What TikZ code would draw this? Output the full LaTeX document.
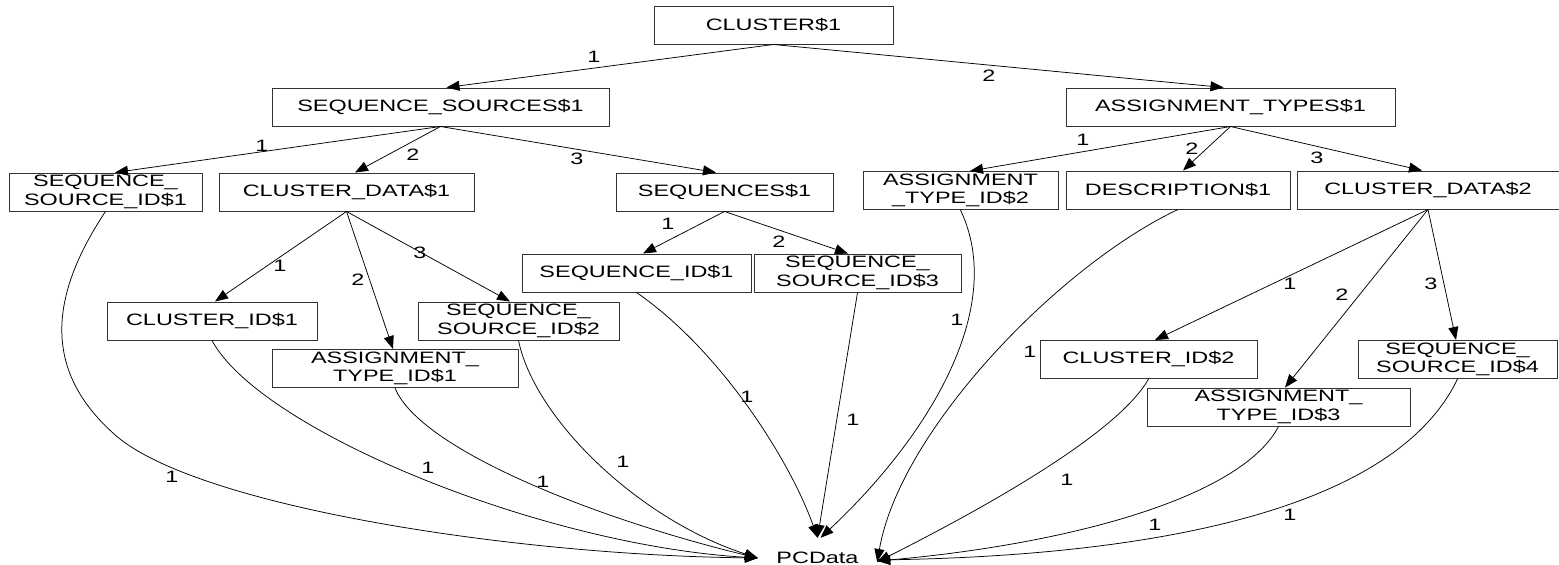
\documentclass[tikz,border=0pt]{standalone}
\usepackage{fontspec}
\setmainfont{Liberation Sans}[FakeStretch=1.42]
\usetikzlibrary{arrows.meta}
\newcommand\dtdfont{\fontsize{16.5}{18.3}\selectfont}
\begin{document}
\begin{tikzpicture}[x=1pt,y=-1pt,
  box/.style={draw=black!80,line width=1pt,minimum height=38pt,inner sep=0pt,align=center,font=\dtdfont},
  edge/.style={line width=0.75pt,-{Triangle[length=13pt,width=10pt]}},
  lbl/.style={font=\dtdfont,inner sep=0pt}]
\useasboundingbox (0,0) rectangle (1559,565);

% element boxes
\node[box,minimum width=239pt] (cl)    at (773.5,25)  {CLUSTER\$1};
\node[box,minimum width=337pt] (ss)    at (440.5,107) {SEQUENCE\_SOURCES\$1};
\node[box,minimum width=329pt] (at)    at (1230.5,107){ASSIGNMENT\_TYPES\$1};
\node[box,minimum width=193pt] (ssid1) at (105.5,192) {SEQUENCE\_\\SOURCE\_ID\$1};
\node[box,minimum width=255pt] (cd1)   at (346.5,192) {CLUSTER\_DATA\$1};
\node[box,minimum width=217pt] (seq)   at (724.5,192) {SEQUENCES\$1};
\node[box,minimum width=195pt] (atid2) at (960.5,190.5){ASSIGNMENT\\\_TYPE\_ID\$2};
\node[box,minimum width=224pt] (desc)  at (1178,190)  {DESCRIPTION\$1};
\node[box,minimum width=262pt] (cd2)   at (1428,190)  {CLUSTER\_DATA\$2};
\node[box,minimum width=229pt] (sid1)  at (636.5,273) {SEQUENCE\_ID\$1};
\node[box,minimum width=207pt] (ssid3) at (857.5,273) {SEQUENCE\_\\SOURCE\_ID\$3};
\node[box,minimum width=210pt] (cid1)  at (212,321)   {CLUSTER\_ID\$1};
\node[box,minimum width=201pt] (ssid2) at (518.5,321) {SEQUENCE\_\\SOURCE\_ID\$2};
\node[box,minimum width=246pt] (atid1) at (395,368.5) {ASSIGNMENT\_\\TYPE\_ID\$1};
\node[box,minimum width=217pt] (cid2)  at (1148.5,359.5){CLUSTER\_ID\$2};
\node[box,minimum width=199pt] (ssid4) at (1457.5,359.5){SEQUENCE\_\\SOURCE\_ID\$4};
\node[box,minimum width=263pt] (atid3) at (1278.5,407) {ASSIGNMENT\_\\TYPE\_ID\$3};
\node[minimum width=119pt,minimum height=40pt,inner sep=0pt,font=\dtdfont] (pc) at (817.5,558) {PCData};

% child edges
\draw[edge] (cl.south) -- ([xshift=6pt]ss.north);
\draw[edge] (cl.south) -- ([xshift=-7pt]at.north);
\draw[edge] (ss.south) -- ([xshift=9.5pt]ssid1.north);
\draw[edge] (ss.south) -- ([xshift=8.5pt]cd1.north);
\draw[edge] (ss.south) -- ([xshift=-8.5pt]seq.north);
\draw[edge] (at.south) -- ([xshift=9.5pt]atid2.north);
\draw[edge] (at.south) -- ([xshift=5pt]desc.north);
\draw[edge] (at.south) -- ([xshift=-6pt]cd2.north);
\draw[edge] (cd1.south) -- ([xshift=3pt]cid1.north);
\draw[edge] (cd1.south) -- ([xshift=-2pt]atid1.north);
\draw[edge] (cd1.south) -- ([xshift=-8.5pt]ssid2.north);
\draw[edge] (seq.south) -- ([xshift=6.5pt]sid1.north);
\draw[edge] (seq.south) -- ([xshift=-9.5pt]ssid3.north);
\draw[edge] (cd2.south) -- ([xshift=6.5pt]cid2.north);
\draw[edge] (cd2.south) -- ([xshift=6.5pt]atid3.north);
\draw[edge] (cd2.south) -- ([xshift=-1.5pt]ssid4.north);

% text content edges
\draw[edge] (ssid1.south) .. controls (50,295) and (42,369) .. (113,433)
                          .. controls (190,505) and (508,555) .. (pc.west);
\draw[edge] (cid1.south) .. controls (260,430) and (540,545) .. (pc.west);
\draw[edge] (atid1.south) .. controls (420,450) and (600,520) .. (pc.west);
\draw[edge] (ssid2.south) .. controls (535,420) and (640,520) .. (pc.west);
\draw[edge] (sid1.south) .. controls (720,350) and (790,460) .. (pc.north);
\draw[edge] (ssid3.south) -- (pc.north);
\draw[edge] (atid2.south) .. controls (1008,310) and (925,440) .. ([xshift=3pt]pc.north);
\draw[edge] (desc.south) .. controls (1060,265) and (900,430) .. ([yshift=-4pt]pc.east);
\draw[edge] (cid2.south) .. controls (1120,430) and (1000,500) .. ([yshift=-4pt]pc.east);
\draw[edge] (atid3.south) .. controls (1240,500) and (1060,545) .. ([yshift=-3pt]pc.east);
\draw[edge] (ssid4.south) .. controls (1390,520) and (1120,556) .. ([yshift=-2pt]pc.east);

% edge labels
\node[lbl] (l-cl-ss)    at (594,57)   {1};
\node[lbl] (l-cl-at)    at (989,76)   {2};
\node[lbl] (l-ss-ssid1) at (262,146)  {1};
\node[lbl] (l-ss-cd1)   at (413,155)  {2};
\node[lbl] (l-ss-seq)   at (577,159)  {3};
\node[lbl] (l-at-atid2) at (1083,140) {1};
\node[lbl] (l-at-desc)  at (1192,149) {2};
\node[lbl] (l-at-cd2)   at (1317,158) {3};
\node[lbl] (l-cd1-cid1) at (280,266)  {1};
\node[lbl] (l-cd1-atid1)at (358,280)  {2};
\node[lbl] (l-cd1-ssid2)at (420,253)  {3};
\node[lbl] (l-seq-sid1) at (668,224)  {1};
\node[lbl] (l-seq-ssid3)at (779,242)  {2};
\node[lbl] (l-cd2-cid2) at (1290,284) {1};
\node[lbl] (l-cd2-atid3)at (1342,295) {2};
\node[lbl] (l-cd2-ssid4)at (1431,284) {3};
\node[lbl] (l-ssid1)    at (172,477)  {1};
\node[lbl] (l-cid1)     at (428,468)  {1};
\node[lbl] (l-atid1)    at (543,482)  {1};
\node[lbl] (l-ssid2)    at (623,462)  {1};
\node[lbl] (l-sid1)     at (747,397)  {1};
\node[lbl] (l-ssid3)    at (853,420)  {1};
\node[lbl] (l-atid2)    at (957,320)  {1};
\node[lbl] (l-desc)     at (1030,352) {1};
\node[lbl] (l-cid2)     at (1067,480) {1};
\node[lbl] (l-atid3)    at (1155,525) {1};
\node[lbl] (l-ssid4)    at (1290,515) {1};
\end{tikzpicture}
\end{document}
